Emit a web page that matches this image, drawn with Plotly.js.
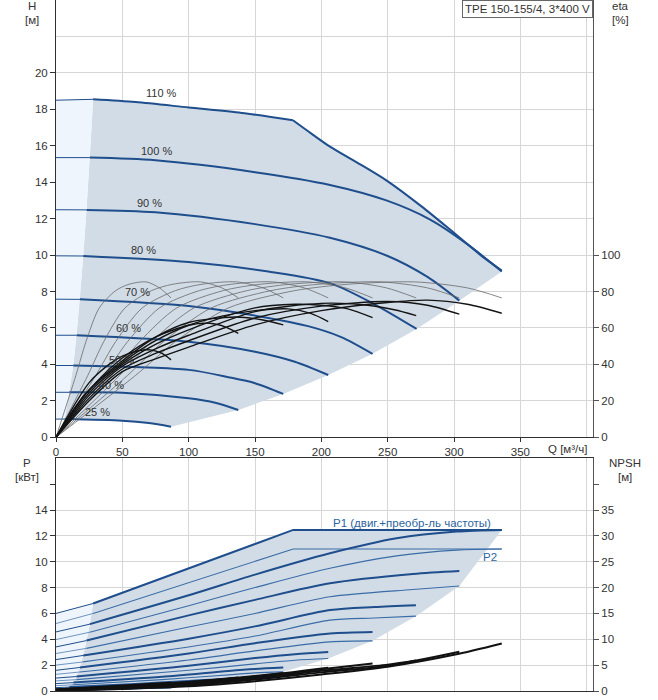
<!DOCTYPE html>
<html><head><meta charset="utf-8">
<script src="https://cdn.plot.ly/plotly-3.0.1.min.js"></script>
<style>html,body{margin:0;padding:0;background:#fff}</style>
</head><body><div id="chart" style="width:658px;height:700px"></div>
<script>
// ---------- H curves (Q [m3/h], H [m]) ----------
const Q_110 = [0,28,60,100,140,178.6,189,206.5,230,249,275,297,320,336];
const H_110 = [18.5,18.55,18.4,18.1,17.8,17.4,16.85,15.95,14.95,14.1,12.7,11.4,10.0,9.15];
const Q_100 = [0,25.5,75,150,206.5,249,282,310,336];
const H_100 = [15.35,15.35,15.2,14.55,13.85,13.0,11.95,10.6,9.1];
const Q_90 = [0,23,75,150,206.5,250,280,304];
const H_90 = [12.49,12.48,12.35,11.7,10.95,9.95,8.8,7.5];
const Q_80 = [0,20.5,100,160,206.5,240,271.8];
const H_80 = [9.96,9.95,9.62,9.1,8.46,7.3,5.95];
const Q_70 = [0,18,100,160,190,215,238.6];
const H_70 = [7.58,7.57,7.2,6.55,6.1,5.5,4.58];
const Q_60 = [0,15.5,100,150,180,205.2];
const H_60 = [5.6,5.6,5.25,4.7,4.15,3.42];
const Q_50 = [0,13,100,130,150,171.3];
const H_50 = [3.94,3.94,3.7,3.3,2.97,2.38];
const Q_40 = [0,10,50,100,120,137.4];
const H_40 = [2.47,2.47,2.45,2.14,1.9,1.5];
const Q_25 = [0,6.5,50,70,86.7];
const H_25 = [1.0,1.0,0.91,0.78,0.58];
const speedLabels = ['110 %','100 %','90 %','80 %','70 %','60 %','50 %','40 %','25 %'];

// ---------- hydraulic efficiency (thin) ----------
const ETA_HYD = [0,34,52.5,71,80.5,84,85.3,82,76.5];
const QE_25 = [0,15,22.6,32.6,45,55,68,78,86.7];
const QE_40 = [0,24,36,52,72,88,109,125,137.4];
const QE_50 = [0,30,45,65,90,110,136,156,171.3];
const QE_60 = [0,36,54,78,108,132,163,187,205.2];
const QE_70 = [0,42,63,91,126,154,190,218,238.6];
const QE_80 = [0,48,72,104,144,176,218,249,271.5];
const QE_90 = [0,54,81,117,162,198,245,280,304];
const QE_100 = [0,60,90,130,180,220,270,310,336];

// ---------- total efficiency (thick) ----------
const QT_25 = [0,10,25,40,50,62,71,80,86.7];
const ET_25 = [0,13,30,40,44.5,47.5,48,46,42.5];
const QT_40 = [0,15,30,50,75,100,116,128,137.4];
const ET_40 = [0,17,30,43.5,55,61.5,62.6,60.5,57];
const QT_50 = [0,20,35,50,75,100,135,155,171.3];
const ET_50 = [0,22,33,42,55,63,66,64.5,61.7];
const QT_60 = [0,25,50,75,100,125,150,175,192,205.2];
const ET_60 = [0,26,41,53,61.5,66.5,69.5,70.5,68,63.5];
const QT_70 = [0,25,50,75,100,150,180,200,220,238.6];
const ET_70 = [0,24.5,40,51,59,71,73,72.5,70.5,65.7];
const QT_80 = [0,25,50,75,100,150,200,235,255,271.5];
const ET_80 = [0,23,39,48.5,56,69,73.5,72.5,70,66.8];
const QT_90 = [0,25,50,75,100,150,200,250,280,304];
const ET_90 = [0,21.5,37.5,46,53,65.5,72,74.5,72.5,67.6];
const QT_100 = [0,25,50,75,100,150,200,250,280,310,336];
const ET_100 = [0,20,36,43,49.5,61.7,69.5,74,75.3,73,68.1];

// ---------- power P1 (thick) / P2 (thin) [kW] ----------
const QP_110 = [0,28,178.8,336];
const P1_110 = [6.0,6.77,12.46,12.46];
const P2_110 = [5.22,6.0,10.98,10.98];
const QP_100 = [0,25.5,100,150,206.5,256.7,302,336];
const P1_100 = [4.57,5.17,7.4,9.0,10.65,11.81,12.33,12.46];
const P2_100 = [3.98,4.55,6.6,8.0,9.49,10.45,10.9,10.98];
const QP_90 = [0,23,100,150,206.5,269,304];
const P1_90 = [3.41,3.9,5.85,7.05,8.33,9.05,9.28];
const P2_90 = [2.9,3.3,4.95,6.0,7.29,7.85,8.12];
const QP_80 = [0,20.5,100,150,206.5,240,271.3];
const P1_80 = [2.43,2.75,4.05,5.0,6.26,6.5,6.64];
const P2_80 = [2.0,2.25,3.4,4.25,5.48,5.65,5.79];
const QP_70 = [0,18,100,150,206.5,238.6];
const P1_70 = [1.6,1.82,2.9,3.7,4.45,4.57];
const P2_70 = [1.29,1.47,2.4,3.1,3.8,3.88];
const QP_60 = [0,15.5,100,150,180,205.2];
const P1_60 = [1.0,1.12,1.95,2.55,2.85,3.02];
const P2_60 = [0.78,0.88,1.6,2.1,2.38,2.51];
const QP_50 = [0,13,80,130,150,171.3];
const P1_50 = [0.57,0.65,1.1,1.55,1.7,1.81];
const P2_50 = [0.41,0.48,0.88,1.25,1.4,1.48];
const QP_40 = [0,10,60,100,120,137.4];
const P1_40 = [0.26,0.3,0.55,0.78,0.88,0.96];
const P2_40 = [0.15,0.19,0.42,0.62,0.71,0.78];
const QP_25 = [0,6.5,40,70,86.7];
const P1_25 = [0.05,0.07,0.17,0.26,0.31];
const P2_25 = [0.02,0.03,0.11,0.19,0.23];

// ---------- NPSH [m] ----------
const QN_100 = [0,50,100,150,200,250,300,336];
const N_100 = [0.1,0.4,0.9,1.9,3.2,4.7,7.0,9.2];
const QN_90 = [0,50,100,150,200,250,304];
const N_90 = [0.15,0.5,1.1,2.2,3.6,4.9,7.6];
const QN_80 = [0,50,100,150,200,250,271.3];
const N_80 = [0.15,0.6,1.3,2.4,3.9,5.1,5.9];
const QN_70 = [0,50,100,150,200,238.6];
const N_70 = [0.2,0.7,1.5,2.6,4.2,5.3];
const QN_60 = [0,50,100,150,205.2];
const N_60 = [0.2,0.8,1.6,2.8,4.5];
const QN_50 = [0,50,100,150,171.3];
const N_50 = [0.25,0.85,1.7,2.9,3.5];
const QN_40 = [0,50,100,137.4];
const N_40 = [0.3,0.9,1.75,2.6];
const QN_25 = [0,40,86.7];
const N_25 = [0.3,0.9,1.6];

// tick labels
const qTicks = [0,50,100,150,200,250,300,350];
const hTicks = [0,2,4,6,8,10,12,14,16,18,20];
const etaTicks = [0,20,40,60,80,100];
const pTicks = [0,2,4,6,8,10,12,14];
const npshTicks = [0,5,10,15,20,25,30,35];

// ---------- build ----------
const BLUE = '#1f4e8c', BLUE2 = '#3b6ca6', GRAY_FILL = '#d1dce7', LIGHT_FILL = '#eef5fc';
const hCurves = [[Q_110,H_110],[Q_100,H_100],[Q_90,H_90],[Q_80,H_80],[Q_70,H_70],[Q_60,H_60],[Q_50,H_50],[Q_40,H_40],[Q_25,H_25]];
const last = a => a[a.length-1];
const traces = [];

// H region fills
(function(){
  const gx=[], gy=[];
  for (let i=hCurves.length-1;i>=0;i--){ gx.push(hCurves[i][0][1]); gy.push(hCurves[i][1][1]); }
  for (let k=2;k<Q_110.length;k++){ gx.push(Q_110[k]); gy.push(H_110[k]); }
  for (let i=1;i<hCurves.length;i++){ gx.push(last(hCurves[i][0])); gy.push(last(hCurves[i][1])); }
  for (let k=Q_25.length-2;k>=1;k--){ gx.push(Q_25[k]); gy.push(H_25[k]); }
  traces.push({x:gx,y:gy,fill:'toself',fillcolor:GRAY_FILL,line:{width:0},mode:'lines',hoverinfo:'skip',xaxis:'x',yaxis:'y'});
  const lx=[Q_110[0]], ly=[H_110[0]];
  for (let i=0;i<hCurves.length;i++){ lx.push(hCurves[i][0][1]); ly.push(hCurves[i][1][1]); }
  lx.push(Q_25[0]); ly.push(H_25[0]);
  traces.push({x:lx,y:ly,fill:'toself',fillcolor:LIGHT_FILL,line:{width:0},mode:'lines',hoverinfo:'skip',xaxis:'x',yaxis:'y'});
})();

function line(xs, ys, color, w, xa, ya, shape){
  traces.push({x:xs,y:ys,mode:'lines',line:{color:color,width:w,shape:shape||'spline',smoothing:0.8},hoverinfo:'skip',xaxis:xa,yaxis:ya});
}
// thin part up to the minimum-flow point, thick after; optional kink index
function twoSeg(xs, ys, color, wThin, wThick, xa, ya, kink, shape){
  line(xs.slice(0,2), ys.slice(0,2), color, wThin, xa, ya, 'linear');
  if (kink){
    line(xs.slice(1,kink+1), ys.slice(1,kink+1), color, wThick, xa, ya, shape);
    line(xs.slice(kink), ys.slice(kink), color, wThick, xa, ya, shape);
  } else line(xs.slice(1), ys.slice(1), color, wThick, xa, ya, shape);
}
hCurves.forEach((c,i)=> twoSeg(c[0],c[1],BLUE,1,2,'x','y', i===0?5:0));

// efficiency curves
[QE_25,QE_40,QE_50,QE_60,QE_70,QE_80,QE_90,QE_100].forEach(q=> line(q, ETA_HYD, '#6a6a6a', 0.8, 'x','y2'));
[[QT_25,ET_25],[QT_40,ET_40],[QT_50,ET_50],[QT_60,ET_60],[QT_70,ET_70],[QT_80,ET_80],[QT_90,ET_90],[QT_100,ET_100]]
  .forEach(c=> line(c[0], c[1], '#141414', 1.4, 'x','y2'));

// power region fills
const pCurves = [[QP_110,P1_110,P2_110],[QP_100,P1_100,P2_100],[QP_90,P1_90,P2_90],[QP_80,P1_80,P2_80],[QP_70,P1_70,P2_70],[QP_60,P1_60,P2_60],[QP_50,P1_50,P2_50],[QP_40,P1_40,P2_40],[QP_25,P1_25,P2_25]];
(function(){
  const gx=[], gy=[];
  for (let i=pCurves.length-1;i>=0;i--){ gx.push(pCurves[i][0][1]); gy.push(pCurves[i][1][1]); }
  for (let k=2;k<QP_110.length;k++){ gx.push(QP_110[k]); gy.push(P1_110[k]); }
  for (let i=2;i<pCurves.length;i++){ gx.push(last(pCurves[i][0])); gy.push(last(pCurves[i][2])); }
  for (let k=QP_25.length-2;k>=1;k--){ gx.push(QP_25[k]); gy.push(P2_25[k]); }
  traces.push({x:gx,y:gy,fill:'toself',fillcolor:GRAY_FILL,line:{width:0},mode:'lines',hoverinfo:'skip',xaxis:'x2',yaxis:'y3'});
  const lx=[QP_110[0]], ly=[P1_110[0]];
  for (let i=0;i<pCurves.length;i++){ lx.push(pCurves[i][0][1]); ly.push(pCurves[i][1][1]); }
  lx.push(QP_25[1]); ly.push(P2_25[1]);
  lx.push(QP_25[0]); ly.push(P2_25[0]);
  traces.push({x:lx,y:ly,fill:'toself',fillcolor:LIGHT_FILL,line:{width:0},mode:'lines',hoverinfo:'skip',xaxis:'x2',yaxis:'y3'});
})();
pCurves.forEach((c,i)=> twoSeg(c[0],c[2],BLUE2,0.7,1.1,'x2','y3',0, i===0?'linear':'spline'));
pCurves.forEach((c,i)=> twoSeg(c[0],c[1],BLUE,1,2,'x2','y3',0, i===0?'linear':'spline'));
[[QN_25,N_25],[QN_40,N_40],[QN_50,N_50],[QN_60,N_60],[QN_70,N_70],[QN_80,N_80],[QN_90,N_90],[QN_100,N_100]]
  .forEach(c=> line(c[0], c[1], '#111', 2, 'x2','y4'));

// ---------- layout ----------
const FONT = 'Liberation Sans, Arial, sans-serif';
const TXT = '#333';
const W=658, Hh=700, ML=56, MR=65, MT=0, MB=9;
const PW = W-ML-MR, PH = Hh-MT-MB;
const px = x => (x-ML)/PW, py = y => (PH+MT-y)/PH;
const GRID = '#d6d6d6', LINE = '#303030';
const tickfont = {family:FONT,size:11.5,color:TXT};

function ann(text,x,y,opts){ return Object.assign({text:text,x:px(x),y:py(y),xref:'paper',yref:'paper',xanchor:'center',yanchor:'middle',showarrow:false,font:{family:FONT,size:11.5,color:TXT}},opts||{}); }

const annotations = [
  ann('H',32,6), ann('[м]',32,20),
  ann('eta',620,6), ann('[%]',620,20),
  ann('P',27,463), ann('[кВт]',27,477),
  ann('NPSH',625,463), ann('[м]',625,477),
  ann('Q [м³/ч]',567,449),
  {text:'TPE 150-155/4, 3*400 V',x:1,y:1,xref:'paper',yref:'paper',xanchor:'right',yanchor:'top',showarrow:false,
   bgcolor:'#fff',bordercolor:'#666',borderwidth:1,borderpad:2,font:{family:FONT,size:11.5,color:TXT}},
  {text:'P1 (двиг.+преобр-ль частоты)',x:268,y:13.02,xref:'x2',yref:'y3',xanchor:'center',yanchor:'middle',showarrow:false,font:{family:FONT,size:11.5,color:'#2d64a0'}},
  {text:'P2',x:327,y:10.39,xref:'x2',yref:'y3',xanchor:'center',yanchor:'middle',showarrow:false,font:{family:FONT,size:11.5,color:'#2d64a0'}}
];
const labelPos = [[79.7,18.9],[76.1,15.73],[70.1,12.87],[65.6,10.29],[61.8,7.98],[55,6.0],[49,4.25],[42.2,2.87],[30.9,1.39]];
speedLabels.forEach((t,i)=> annotations.push({text:t,x:labelPos[i][0],y:labelPos[i][1],xref:'x',yref:'y',xanchor:'center',yanchor:'middle',showarrow:false,font:{family:FONT,size:11,color:TXT}}));

const topDom = [(PH+MT-437.3)/PH, 1];
const botDom = [0, (PH+MT-458.3)/PH];
const xr = [0, PW/1.3267];

const layout = {
  width:W, height:Hh, margin:{l:ML,r:MR,t:MT,b:MB,pad:0},
  paper_bgcolor:'#fff', plot_bgcolor:'#fff', showlegend:false,
  font:{family:FONT,color:TXT},
  xaxis:{domain:[0,1],anchor:'y',range:xr,tickmode:'array',tickvals:qTicks,ticktext:qTicks.map(String),
    showgrid:true,gridcolor:GRID,gridwidth:1,zeroline:false,showline:true,linecolor:LINE,linewidth:1,
    ticks:'outside',ticklen:4,tickcolor:LINE,tickfont:tickfont,
    minor:{tickvals:[400],showgrid:true,gridcolor:GRID,ticks:''}},
  yaxis:{domain:topDom,anchor:'x',range:[0,24],tickmode:'array',tickvals:hTicks,ticktext:hTicks.map(String),
    showgrid:true,gridcolor:GRID,gridwidth:1,zeroline:false,showline:true,linecolor:LINE,linewidth:1,
    ticks:'outside',ticklen:5,tickcolor:LINE,tickfont:tickfont,
    minor:{tickvals:[22],showgrid:true,gridcolor:GRID,ticks:''}},
  yaxis2:{overlaying:'y',side:'right',anchor:'x',range:[0,240],tickmode:'array',tickvals:etaTicks,ticktext:etaTicks.map(String),
    showgrid:false,zeroline:false,showline:true,linecolor:'#555',linewidth:1,ticks:'outside',ticklen:5,tickcolor:'#555',tickfont:tickfont},
  xaxis2:{domain:[0,1],anchor:'y3',range:xr,tickmode:'array',tickvals:qTicks,showticklabels:false,
    showgrid:true,gridcolor:GRID,gridwidth:1,zeroline:false,showline:true,mirror:true,linecolor:LINE,linewidth:1,ticks:'',
    minor:{tickvals:[400],showgrid:true,gridcolor:GRID,ticks:''}},
  yaxis3:{domain:botDom,anchor:'x2',range:[0,18],tickmode:'array',tickvals:pTicks,ticktext:pTicks.map(String),
    showgrid:true,gridcolor:GRID,gridwidth:1,zeroline:false,showline:true,linecolor:LINE,linewidth:1,
    ticks:'outside',ticklen:5,tickcolor:LINE,tickfont:tickfont,
    minor:{tickvals:[16],showgrid:false,ticks:'outside',ticklen:5,tickcolor:LINE}},
  yaxis4:{overlaying:'y3',side:'right',anchor:'x2',range:[0,45],tickmode:'array',tickvals:npshTicks,ticktext:npshTicks.map(String),
    showgrid:false,zeroline:false,showline:true,linecolor:'#555',linewidth:1,ticks:'outside',ticklen:5,tickcolor:'#555',tickfont:tickfont,
    minor:{tickvals:[40],showgrid:false,ticks:'outside',ticklen:5,tickcolor:'#555'}},
  annotations:annotations
};
Plotly.newPlot('chart', traces, layout, {staticPlot:true, displayModeBar:false});
</script></body></html>
